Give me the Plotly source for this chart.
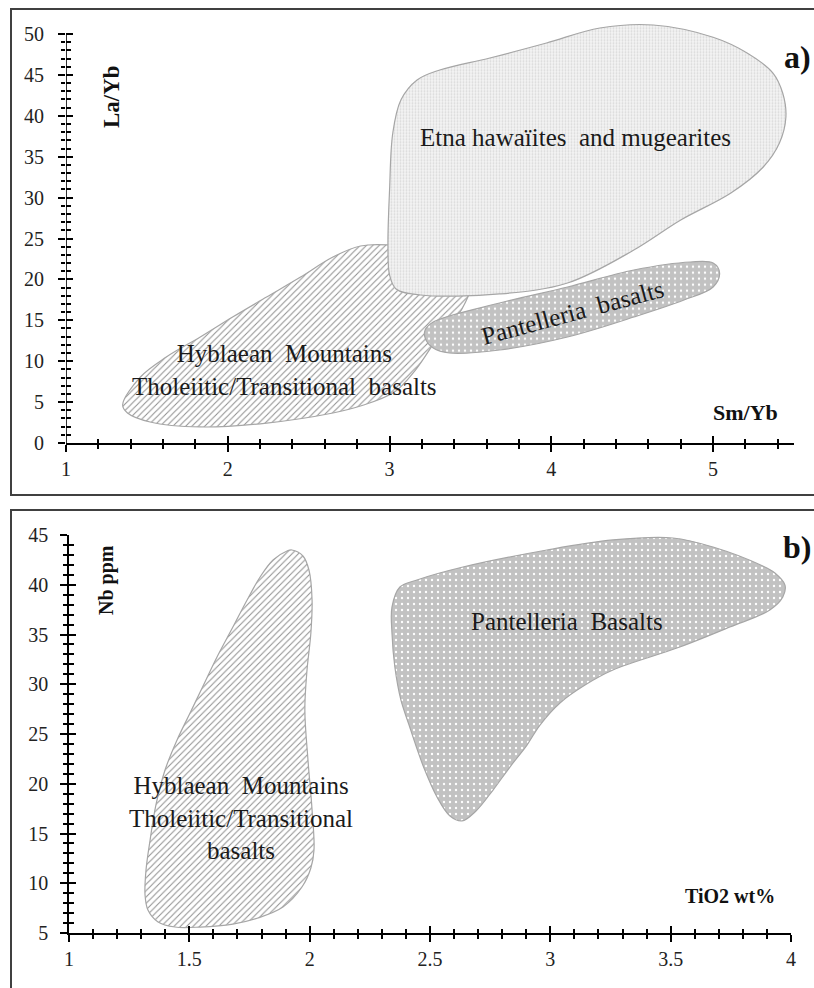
import plotly.graph_objects as go

W, H = 814, 988

# ---------------- Panel a data (Sm/Yb vs La/Yb) ----------------
a_hyb_x = [1.35, 1.46, 1.62, 1.83, 2.03, 2.24, 2.45, 2.65, 2.82, 2.99, 3.22, 3.42, 3.50, 3.47,
           3.41, 3.31, 3.16, 3.03, 2.82, 2.65, 2.24, 1.83, 1.52, 1.38]
a_hyb_y = [4.65, 8.07, 10.51, 12.96, 15.40, 17.85, 20.29, 22.74, 24.08, 24.21, 23.35, 21.39, 19.19, 17.24,
           15.28, 13.20, 8.92, 6.23, 4.52, 3.67, 2.44, 1.96, 2.57, 3.67]

a_etna_x = [2.99, 3.00, 3.04, 3.19, 3.68, 4.10, 4.51, 4.80, 5.11, 5.31, 5.41, 5.45, 5.43, 5.37,
            5.21, 5.00, 4.63, 4.30, 3.97, 3.62, 3.31, 3.17, 3.07, 3.02, 3.00]
a_etna_y = [23.96, 20.54, 18.83, 18.09, 18.22, 19.56, 23.59, 27.26, 30.56, 33.74, 36.67, 39.85, 42.79, 45.23,
            47.68, 49.60, 51.10, 50.73, 48.90, 47.07, 45.60, 44.38, 41.93, 37.90, 30.93]

a_pant_x = [3.22, 3.27, 3.68, 4.10, 4.51, 4.86, 5.00, 5.04, 5.00, 4.82, 4.51, 4.10, 3.68, 3.37, 3.27, 3.22]
a_pant_y = [13.81, 14.79, 17.11, 19.07, 21.15, 22.13, 22.00, 20.78, 19.07, 17.48, 15.40, 12.96, 11.37, 11.00, 11.61, 12.84]

a_xticks = [1, 2, 3, 4, 5]
a_xminor = [1.2, 1.4, 1.6, 1.8, 2.2, 2.4, 2.6, 2.8, 3.2, 3.4, 3.6, 3.8, 4.2, 4.4, 4.6, 4.8, 5.2, 5.4]
a_yticks = [0, 5, 10, 15, 20, 25, 30, 35, 40, 45, 50]
a_yminor = [v for v in range(0, 51) if v % 5 != 0]

# ---------------- Panel b data (TiO2 vs Nb) ----------------
b_hyb_x = [1.316, 1.320, 1.337, 1.361, 1.399, 1.449, 1.503, 1.553, 1.615, 1.681, 1.740, 1.794, 1.848,
           1.906, 1.926, 1.972, 1.997, 2.010, 2.005, 1.989, 1.980, 1.993, 2.010, 2.018, 2.005, 1.968,
           1.889, 1.785, 1.681, 1.544, 1.440, 1.370, 1.328]
b_hyb_y = [8.82, 11.33, 14.35, 17.86, 21.38, 24.40, 27.11, 29.62, 32.74, 35.75, 38.47, 40.78, 42.49,
           43.39, 43.49, 42.89, 41.48, 38.47, 35.15, 31.43, 27.41, 22.39, 17.36, 13.34, 11.53, 9.62,
           7.61, 6.51, 5.90, 5.60, 5.60, 6.11, 7.31]

b_pant_x = [2.342, 2.342, 2.354, 2.379, 2.413, 2.442, 2.475, 2.529, 2.583, 2.633, 2.691, 2.762, 2.832,
            2.903, 2.957, 3.040, 3.144, 3.260, 3.538, 3.746, 3.912, 3.966, 3.975, 3.933, 3.883, 3.676,
            3.509, 3.260, 2.986, 2.637, 2.446, 2.375]
b_pant_y = [37.76, 35.15, 31.73, 28.42, 25.90, 23.79, 21.58, 18.67, 16.76, 16.26, 17.26, 19.37, 21.68,
            23.89, 25.90, 28.12, 29.92, 31.43, 33.74, 35.75, 37.46, 38.77, 39.97, 41.18, 41.88, 43.79,
            44.70, 44.50, 43.49, 41.78, 40.48, 39.77]

b_xticks = [1, 1.5, 2, 2.5, 3, 3.5, 4]
b_xticktext = ["1", "1.5", "2", "2.5", "3", "3.5", "4"]
b_xminor = [round(1 + 0.1 * i, 1) for i in range(31) if i % 5 != 0]
b_yticks = [5, 10, 15, 20, 25, 30, 35, 40, 45]
b_yminor = [v for v in range(5, 46) if v % 5 != 0]

SERIF = "Liberation Serif"
OUTLINE = dict(color="#a6a6a6", width=1.2)


def closed(xs, ys):
    return list(xs) + [xs[0]], list(ys) + [ys[0]]


hatch = dict(shape="/", fgcolor="#8e8e8e", bgcolor="white", size=4.5, solidity=0.22, fillmode="replace")
fine_dots = dict(shape=".", fgcolor="#d8d8d8", bgcolor="#f4f4f4", size=3, solidity=0.3, fillmode="replace")
big_dots = dict(shape=".", fgcolor="#ffffff", bgcolor="#c2c2c2", size=6, solidity=0.12, fillmode="replace")

fig = go.Figure()


def region(xs, ys, pattern, xa, ya):
    cx, cy = closed(xs, ys)
    fig.add_trace(go.Scatter(x=cx, y=cy, mode="lines", fill="toself", line=OUTLINE,
                             line_shape="spline", fillpattern=pattern, xaxis=xa, yaxis=ya,
                             hoverinfo="skip", showlegend=False))


region(a_hyb_x, a_hyb_y, hatch, "x", "y")
region(a_etna_x, a_etna_y, fine_dots, "x", "y")
region(a_pant_x, a_pant_y, big_dots, "x", "y")
region(b_hyb_x, b_hyb_y, hatch, "x2", "y2")
region(b_pant_x, b_pant_y, big_dots, "x2", "y2")

# empty traces for the overlay (inside-tick) axes
fig.add_trace(go.Scatter(x=[], y=[], xaxis="x3", yaxis="y3", showlegend=False))
fig.add_trace(go.Scatter(x=[], y=[], xaxis="x4", yaxis="y4", showlegend=False))


def pxx(p):
    return p / W


def pxy(p):
    return 1 - p / H


a_xdom = [pxx(66), pxx(794)]
a_yrange = [0, 52]
a_ydom = [pxy(443), pxy(443 - 52 * 8.18)]
b_xdom = [pxx(69), pxx(791)]
b_ydom = [pxy(933), pxy(535)]

tickfont = dict(family=SERIF, size=20, color="#222222")
MAJ = 7
MIN = 4.5
TW = 1.7


def axis_common(tickvals, minor_vals, ticks, ticktext=None, labels=True):
    d = dict(tickmode="array", tickvals=tickvals, ticks=ticks, ticklen=MAJ, tickwidth=TW,
             tickcolor="black", showgrid=False, zeroline=False, tickfont=tickfont,
             showticklabels=labels, automargin=False,
             minor=dict(tickvals=minor_vals, ticks=ticks, ticklen=MIN, tickwidth=TW,
                        tickcolor="black", showgrid=False))
    if ticktext is not None:
        d["ticktext"] = ticktext
    return d


fig.update_layout(
    width=W, height=H, margin=dict(l=0, r=0, t=0, b=0, pad=0, autoexpand=False),
    paper_bgcolor="white", plot_bgcolor="rgba(0,0,0,0)", showlegend=False,
    font=dict(family=SERIF),
    xaxis=dict(domain=a_xdom, range=[1, 5.5], anchor="y", showline=True, linecolor="black",
               linewidth=1.6, ticklabelstandoff=0,
               **axis_common(a_xticks, a_xminor, "outside")),
    yaxis=dict(domain=a_ydom, range=a_yrange, anchor="x", showline=False, ticklabelstandoff=10,
               **axis_common(a_yticks, a_yminor, "outside")),
    xaxis3=dict(overlaying="x", range=[1, 5.5], anchor="y", showline=False,
                **axis_common(a_xticks, a_xminor, "inside", labels=False)),
    yaxis3=dict(overlaying="y", range=a_yrange, anchor="x", showline=False,
                **axis_common(a_yticks, a_yminor, "inside", labels=False)),
    xaxis2=dict(domain=b_xdom, range=[1, 4], anchor="y2", showline=True, linecolor="black",
                linewidth=1.6, ticklabelstandoff=0,
                **axis_common(b_xticks, b_xminor, "outside", ticktext=b_xticktext)),
    yaxis2=dict(domain=b_ydom, range=[5, 45], anchor="x2", showline=True, linecolor="black",
                linewidth=1.6, ticklabelstandoff=8,
                **axis_common(b_yticks, b_yminor, "outside")),
    xaxis4=dict(overlaying="x2", range=[1, 4], anchor="y2", showline=False,
                **axis_common(b_xticks, b_xminor, "inside", labels=False)),
    yaxis4=dict(overlaying="y2", range=[5, 45], anchor="x2", showline=False,
                **axis_common(b_yticks, b_yminor, "inside", labels=False)),
)

# panel a y-axis line (stops at 50 while the plot area reaches a little higher)
fig.add_shape(type="line", xref="x", yref="y", x0=1, x1=1, y0=0, y1=50,
              line=dict(color="black", width=1.6))

# panel frames
FRAME = dict(color="#404040", width=2)
fig.add_shape(type="rect", xref="paper", yref="paper", x0=pxx(11), x1=1.02, y0=pxy(495), y1=pxy(9),
              line=FRAME, layer="below")
fig.add_shape(type="rect", xref="paper", yref="paper", x0=pxx(11), x1=1.02, y0=-0.02, y1=pxy(510),
              line=FRAME, layer="below")

NB = "\u00a0"
label_font = dict(family=SERIF, size=25, color="#1a1a1a")

# region labels, panel a
fig.add_annotation(x=4.15, y=37.4, xref="x", yref="y", showarrow=False, font=label_font,
                   text=f"Etna hawaïites {NB}and mugearites")
fig.add_annotation(x=4.13, y=15.9, xref="x", yref="y", showarrow=False, font=label_font,
                   textangle=-15, text=f"Pantelleria {NB}basalts")
fig.add_annotation(x=2.35, y=8.9, xref="x", yref="y", showarrow=False, font=label_font,
                   text=f"Hyblaean {NB}Mountains<br>Tholeiitic/Transitional {NB}basalts")

# region labels, panel b
fig.add_annotation(x=3.07, y=36.3, xref="x2", yref="y2", showarrow=False, font=label_font,
                   text=f"Pantelleria {NB}Basalts")
fig.add_annotation(x=1.715, y=16.6, xref="x2", yref="y2", showarrow=False, font=label_font,
                   text=f"Hyblaean {NB}Mountains<br>Tholeiitic/Transitional<br>basalts")


def ptext(text, x, y, size, angle=0):
    fig.add_annotation(x=pxx(x), y=pxy(y), xref="paper", yref="paper", showarrow=False,
                       xanchor="center", yanchor="middle",
                       text=f"<b>{text}</b>", textangle=angle,
                       font=dict(family=SERIF, size=size, color="#111111"))


ptext("La/Yb", 112, 97, 23, -90)
ptext("Sm/Yb", 745, 412, 22)
ptext("Nb ppm", 106, 580, 20, -90)
ptext("TiO2 wt%", 730, 896, 20)
ptext("a)", 797, 57, 32)
ptext("b)", 797, 547, 32)

fig.write_html("out.html", config={"displayModeBar": False},
               post_script="document.body.style.margin='0';document.body.style.overflow='hidden';")
